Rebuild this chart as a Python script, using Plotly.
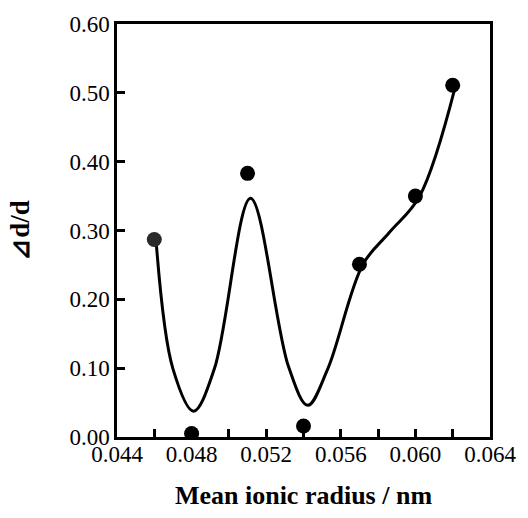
import plotly.graph_objects as go

# Measured data
radius = [0.046, 0.048, 0.051, 0.054, 0.057, 0.060, 0.062]
dd = [0.287, 0.005, 0.383, 0.016, 0.251, 0.350, 0.511]
marker_colors = ["#2b2b2b", "black", "black", "black", "black", "black", "black"]

# Smoothed trend line through the data
fit_x = [0.04611, 0.04700, 0.04811, 0.04922, 0.05116, 0.05320, 0.05423,
         0.05530, 0.05719, 0.05860, 0.06021, 0.06215]
fit_y = [0.280, 0.099, 0.0375, 0.099, 0.347, 0.102, 0.046,
         0.099, 0.251, 0.297, 0.349, 0.510]

serif = "Times New Roman"

fig = go.Figure()
fig.add_trace(go.Scatter(
    x=fit_x, y=fit_y, mode="lines",
    line=dict(color="black", width=3, shape="spline", smoothing=1.0),
    hoverinfo="skip", showlegend=False,
))
fig.add_trace(go.Scatter(
    x=radius, y=dd, mode="markers",
    marker=dict(color=marker_colors, size=15, line=dict(width=0)),
    showlegend=False,
))

fig.update_layout(
    width=528, height=518,
    margin=dict(l=117, r=35, t=22, b=75),
    plot_bgcolor="white", paper_bgcolor="white",
    font=dict(family=serif, color="black", size=23),
)
fig.update_xaxes(
    range=[0.044, 0.064], dtick=0.004, tick0=0.044, tickformat=".3f",
    showgrid=False, zeroline=False,
    showline=True, mirror=True, linecolor="black", linewidth=2.5,
    ticks="inside", ticklen=8, tickwidth=2.5, tickcolor="black",
    minor=dict(dtick=0.002, tick0=0.044, ticks="inside", ticklen=8,
               tickwidth=2.5, tickcolor="black", showgrid=False),
    tickfont=dict(family=serif, size=23), ticklabelstandoff=-5,
    title=dict(text="<b>Mean ionic radius / nm</b>",
               font=dict(family=serif, size=26), standoff=20),
)
fig.update_yaxes(
    range=[0, 0.6], dtick=0.1, tickformat=".2f",
    showgrid=False, zeroline=False,
    showline=True, mirror=True, linecolor="black", linewidth=2.5,
    ticks="inside", ticklen=8, tickwidth=2.5, tickcolor="black",
    tickfont=dict(family=serif, size=23),
    title=dict(text="<b>⊿d/d</b>",
               font=dict(family=serif, size=27), standoff=32),
)

fig.write_html("out.html")
